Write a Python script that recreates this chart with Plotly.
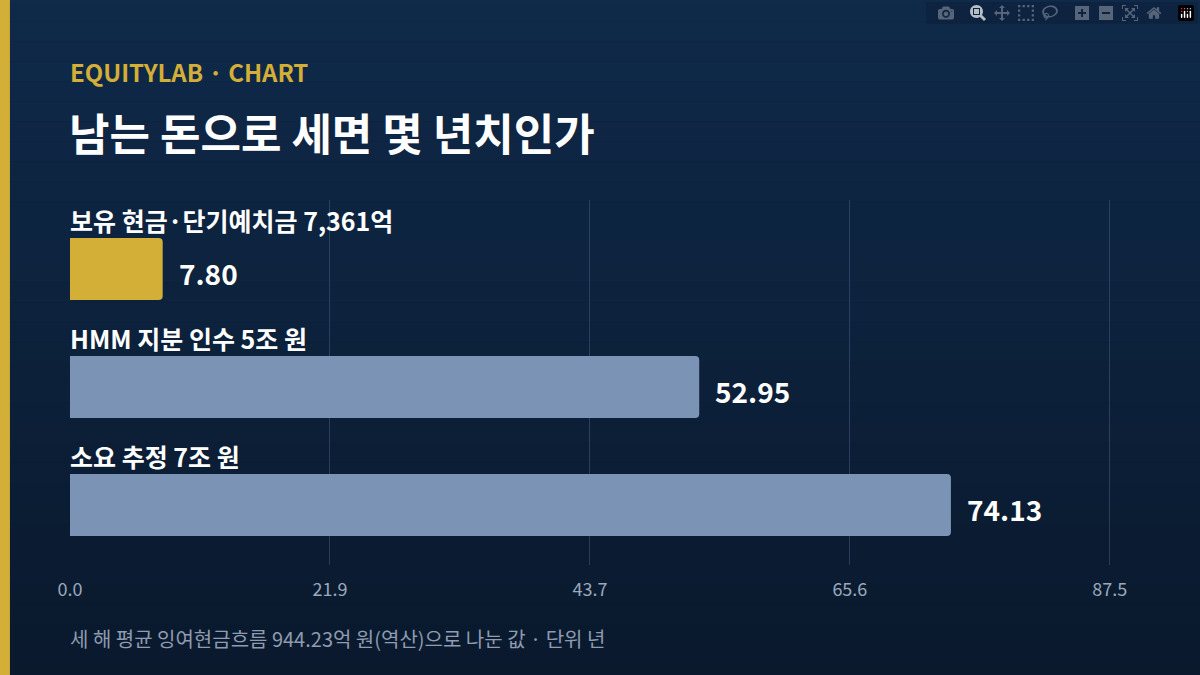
import plotly.graph_objects as go

categories = ["보유 현금·단기예치금 7,361억", "HMM 지분 인수 5조 원", "소요 추정 7조 원"]
values = [7.80, 52.95, 74.13]
colors = ["#d4af37", "#7b93b5", "#7b93b5"]
tick_vals = [0, 21.875, 43.75, 65.625, 87.5]
tick_text = ["0.0", "21.9", "43.7", "65.6", "87.5"]

FONT = "Noto Sans CJK KR"
fig = go.Figure(go.Bar(
    y=list(range(len(categories))), x=values, orientation="h",
    marker=dict(color=colors, cornerradius=4, line=dict(width=0)),
    width=0.525, hoverinfo="skip"))

for i, (c, v) in enumerate(zip(categories, values)):
    fig.add_annotation(x=0, y=i, text=c, showarrow=False, xanchor="left", yanchor="bottom",
                       yshift=29, xshift=-2, font=dict(family=FONT, size=25, color="white", weight="bold"))
    fig.add_annotation(x=v, y=i, text=f"{v:.2f}", showarrow=False, xanchor="left", xshift=14,
                       yshift=-4, font=dict(family=FONT, size=28, color="white", weight="bold"))

top = (15, 42, 74); bot = (9, 22, 40)
n = 40
for k in range(n):
    t = k / (n - 1)
    col = "rgb(%d,%d,%d)" % tuple(round(a + (b - a) * t) for a, b in zip(top, bot))
    fig.add_shape(type="rect", xref="paper", yref="paper", x0=-0.1, x1=1.2,
                  y0=1.6 - k * 2.2 / n, y1=1.6 - (k + 1) * 2.2 / n, fillcolor=col,
                  line=dict(width=0), layer="below")
fig.add_shape(type="rect", xref="paper", yref="paper", x0=-70/1040, x1=-60/1040,
              y0=-2, y1=3, fillcolor="#d4af37", line=dict(width=0), layer="below")

fig.add_annotation(xref="paper", yref="paper", x=0, y=1, yshift=129, text="EQUITYLAB · CHART",
                   showarrow=False, xanchor="left", yanchor="middle", xshift=-2,
                   font=dict(family=FONT, size=24, color="#d4af37", weight="bold"))
fig.add_annotation(xref="paper", yref="paper", x=0, y=1, yshift=68, text="남는 돈으로 세면 몇 년치인가",
                   showarrow=False, xanchor="left", yanchor="middle", xshift=-3,
                   font=dict(family=FONT, size=44, color="white", weight="bold"))
fig.add_annotation(xref="paper", yref="paper", x=0, y=0, yshift=-73,
                   text="세 해 평균 잉여현금흐름 944.23억 원(역산)으로 나눈 값 · 단위 년",
                   showarrow=False, xanchor="left", yanchor="middle", xshift=-2,
                   font=dict(family=FONT, size=20, color="#8e9bb0"))

fig.update_layout(
    width=1200, height=675, margin=dict(l=70, r=89, t=200, b=110),
    paper_bgcolor="#0c1d36", plot_bgcolor="rgba(0,0,0,0)", showlegend=False,
    xaxis=dict(range=[0, 87.6], tickvals=tick_vals, ticktext=tick_text, showgrid=True,
               gridcolor="rgba(110,140,185,0.3)", gridwidth=1, zeroline=False,
               tickfont=dict(family=FONT, size=18, color="#9aa8bd"), ticks="", ticklabelstandoff=12),
    yaxis=dict(range=[2.508, -0.585], showticklabels=False, showgrid=False, zeroline=False),
)
fig.write_html("out.html")

with open("out.html", encoding="utf-8") as f:
    html = f.read()
html = html.replace("<head>", "<head><style>html,body{margin:0;padding:0;background:#0c1d36;overflow:hidden}</style>", 1)
with open("out.html", "w", encoding="utf-8") as f:
    f.write(html)
